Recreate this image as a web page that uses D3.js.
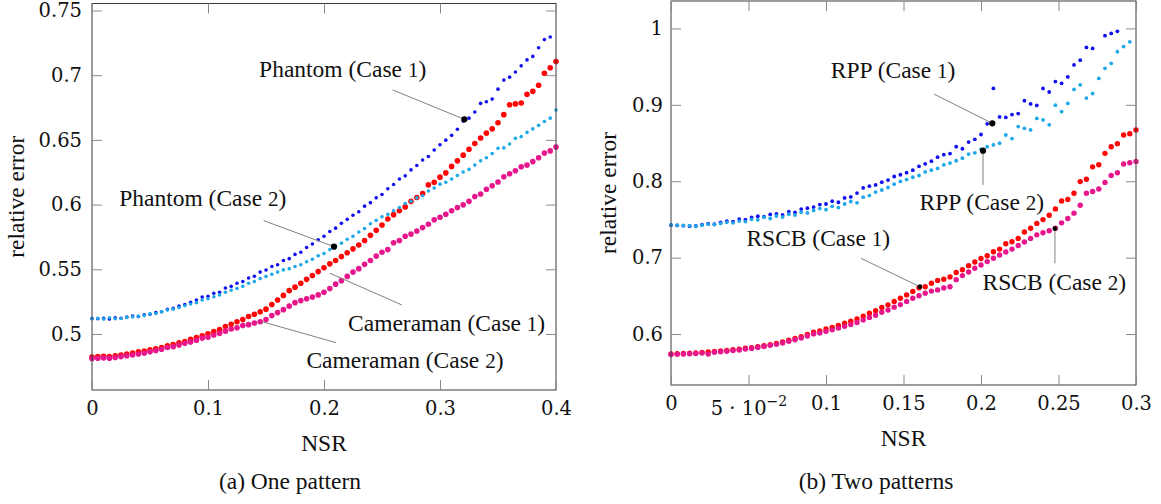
<!DOCTYPE html>
<html>
<head>
<meta charset="utf-8">
<script src="https://cdn.jsdelivr.net/npm/d3@7"></script>
<style>
  body { margin: 0; background: #fff; }
  svg { display: block; }
  text.lbl, text.lbl tspan { font-family: 'Liberation Serif', 'Times New Roman', serif; }
  text.num, text.num tspan, tspan.num { font-family: 'DejaVu Serif', serif; }
</style>
</head>
<body>
<svg id="chart" width="1161" height="504"></svg>
<script>
// ---- data: (a) one pattern ----
const nsrA = [0, 0.005, 0.01, 0.015, 0.02, 0.025, 0.03, 0.035, 0.04, 0.045,
  0.05, 0.055, 0.06, 0.065, 0.07, 0.075, 0.08, 0.085, 0.09, 0.095,
  0.1, 0.105, 0.11, 0.115, 0.12, 0.125, 0.13, 0.135, 0.14, 0.145,
  0.15, 0.155, 0.16, 0.165, 0.17, 0.175, 0.18, 0.185, 0.19, 0.195,
  0.2, 0.205, 0.21, 0.215, 0.22, 0.225, 0.23, 0.235, 0.24, 0.245,
  0.25, 0.255, 0.26, 0.265, 0.27, 0.275, 0.28, 0.285, 0.29, 0.295,
  0.3, 0.305, 0.31, 0.315, 0.32, 0.325, 0.33, 0.335, 0.34, 0.345,
  0.35, 0.355, 0.36, 0.365, 0.37, 0.375, 0.38, 0.385, 0.39, 0.395, 0.4];

const phantom1 = [0.512, 0.5118, 0.5122, 0.5115, 0.5125, 0.5121, 0.513, 0.5138, 0.5135, 0.5148,
  0.5152, 0.5165, 0.5172, 0.519, 0.5198, 0.5215, 0.5228, 0.5245, 0.5262, 0.5285,
  0.5292, 0.5315, 0.5322, 0.5355, 0.5368, 0.5392, 0.5405, 0.5432, 0.5446, 0.5478,
  0.5494, 0.5522, 0.5535, 0.5568, 0.5582, 0.5615, 0.5632, 0.5668, 0.5695, 0.5728,
  0.5755, 0.5792, 0.5818, 0.5855, 0.5886, 0.5918, 0.5945, 0.5988, 0.6015, 0.6052,
  0.6078, 0.6122, 0.6155, 0.6198, 0.6222, 0.6268, 0.6302, 0.6345, 0.6372, 0.6422,
  0.6462, 0.6498, 0.6535, 0.6582, 0.6645, 0.6668, 0.6715, 0.6782, 0.6795, 0.6815,
  0.6892, 0.6962, 0.6985, 0.7025, 0.7072, 0.7118, 0.7145, 0.7212, 0.7275, 0.7295, null];

const phantom2 = [0.5118, 0.5122, 0.5115, 0.5125, 0.5118, 0.512, 0.5128, 0.5132, 0.5138, 0.5142,
  0.5155, 0.5158, 0.5172, 0.5185, 0.5192, 0.5205, 0.5218, 0.5232, 0.5242, 0.5262,
  0.5272, 0.5288, 0.5302, 0.5322, 0.5338, 0.5352, 0.5368, 0.5392, 0.5405, 0.5428,
  0.5445, 0.5462, 0.5478, 0.5495, 0.5505, 0.5522, 0.5535, 0.5558, 0.5578, 0.5605,
  0.5622, 0.5652, 0.5678, 0.5702, 0.5732, 0.5755, 0.5788, 0.5815, 0.5852, 0.5878,
  0.5905, 0.5925, 0.5952, 0.5978, 0.6008, 0.6025, 0.6052, 0.6068, 0.6105, 0.6128,
  0.6158, 0.6172, 0.6198, 0.6225, 0.6252, 0.6272, 0.6305, 0.6338, 0.6362, 0.6395,
  0.6435, 0.6438, 0.6468, 0.6512, 0.6525, 0.6558, 0.6585, 0.6612, 0.6642, 0.6668, 0.673];

const camera1 = [0.4822, 0.4825, 0.4828, 0.4826, 0.4832, 0.4838, 0.4845, 0.4852, 0.4862, 0.4868,
  0.4878, 0.4885, 0.4895, 0.4908, 0.4918, 0.4932, 0.4942, 0.4958, 0.4972, 0.4985,
  0.5002, 0.5018, 0.5035, 0.5058, 0.5075, 0.5095, 0.5112, 0.5135, 0.5152, 0.5172,
  0.5192, 0.5228, 0.5262, 0.5298, 0.5335, 0.5362, 0.5392, 0.5422, 0.5452, 0.5482,
  0.5512, 0.5542, 0.5568, 0.5598, 0.5628, 0.5658, 0.5688, 0.5722, 0.5762, 0.5802,
  0.5842, 0.5888, 0.5922, 0.5952, 0.5982, 0.6025, 0.6055, 0.6085, 0.6152, 0.6172,
  0.6212, 0.6245, 0.6295, 0.6338, 0.6382, 0.6428, 0.6472, 0.6515, 0.6552, 0.6585,
  0.6632, 0.6695, 0.6772, 0.6778, 0.6785, 0.6852, 0.6875, 0.6922, 0.7015, 0.7058, 0.7105];

const camera2 = [0.481, 0.4812, 0.4815, 0.4813, 0.4818, 0.4825, 0.4832, 0.4838, 0.4845, 0.4852,
  0.4862, 0.4872, 0.4882, 0.4895, 0.4902, 0.4915, 0.4928, 0.4938, 0.4952, 0.4968,
  0.4975, 0.4992, 0.5005, 0.5022, 0.5038, 0.5048, 0.5065, 0.5072, 0.5085, 0.5095,
  0.5112, 0.5142, 0.5165, 0.5188, 0.5215, 0.5242, 0.5258, 0.5272, 0.5285, 0.5302,
  0.5322, 0.5352, 0.5385, 0.5412, 0.5445, 0.5478, 0.5505, 0.5538, 0.5568, 0.5602,
  0.5632, 0.5652, 0.5705, 0.5722, 0.5755, 0.5772, 0.5795, 0.5822, 0.5848, 0.5882,
  0.5902, 0.5925, 0.5952, 0.5978, 0.5998, 0.6025, 0.6062, 0.6082, 0.6118, 0.6145,
  0.6175, 0.6215, 0.6238, 0.6262, 0.6292, 0.6305, 0.6332, 0.6362, 0.6398, 0.6415, 0.6445];

// ---- data: (b) two patterns ----
const nsrB = [0, 0.004, 0.008, 0.012, 0.016, 0.02, 0.024, 0.028, 0.032, 0.036,
  0.04, 0.044, 0.048, 0.052, 0.056, 0.06, 0.064, 0.068, 0.072, 0.076,
  0.08, 0.084, 0.088, 0.092, 0.096, 0.1, 0.104, 0.108, 0.112, 0.116,
  0.12, 0.124, 0.128, 0.132, 0.136, 0.14, 0.144, 0.148, 0.152, 0.156,
  0.16, 0.164, 0.168, 0.172, 0.176, 0.18, 0.184, 0.188, 0.192, 0.196,
  0.2, 0.204, 0.208, 0.212, 0.216, 0.22, 0.224, 0.228, 0.232, 0.236,
  0.24, 0.244, 0.248, 0.252, 0.256, 0.26, 0.264, 0.268, 0.272, 0.276,
  0.28, 0.284, 0.288, 0.292, 0.296, 0.3];

const rpp1 = [0.7425, 0.7422, 0.7418, 0.7412, 0.7415, 0.7432, 0.7445, 0.7438, 0.7462, 0.7478,
  0.7472, 0.7505, 0.7498, 0.7528, 0.7542, 0.7535, 0.7565, 0.7572, 0.7558, 0.7602,
  0.7592, 0.7635, 0.7648, 0.7662, 0.7695, 0.7702, 0.7738, 0.7725, 0.7782, 0.7795,
  0.7845, 0.7912, 0.7935, 0.7952, 0.7988, 0.8015, 0.8062, 0.8085, 0.8112, 0.8145,
  0.8195, 0.8228, 0.8262, 0.8315, 0.8348, 0.8362, 0.8452, 0.8425, 0.8512, 0.8548,
  0.8612, 0.8752, 0.9215, 0.8842, 0.8835, 0.8872, 0.8885, 0.9055, 0.9012, 0.8992,
  0.9215, 0.9168, 0.9305, 0.9282, 0.9365, 0.9522, 0.9585, 0.9752, 0.9738, null,
  0.9905, 0.9935, 0.9962, null, null, null];

const rpp2 = [0.7428, 0.7425, 0.7421, 0.7418, 0.7412, 0.7425, 0.7438, 0.7432, 0.7448, 0.7462,
  0.7455, 0.7478, 0.7472, 0.7502, 0.7495, 0.7528, 0.7512, 0.7545, 0.7532, 0.7568,
  0.7558, 0.7595, 0.7585, 0.7618, 0.7642, 0.7628, 0.7672, 0.7655, 0.7702, 0.7735,
  0.7718, 0.7792, 0.7812, 0.7858, 0.7885, 0.7918, 0.7962, 0.7998, 0.8022, 0.8052,
  0.8075, 0.8122, 0.8145, 0.8168, 0.8215, 0.8238, 0.8268, 0.8302, 0.8355, 0.8372,
  0.8418, 0.8452, 0.8475, 0.8498, 0.8605, 0.8558, 0.8715, 0.8692, 0.8672, 0.8822,
  0.8802, 0.8738, 0.8995, 0.8912, 0.9018, 0.9202, 0.9262, 0.9088, 0.9148, 0.9345,
  0.9478, 0.9542, 0.9695, 0.9762, 0.9825, null];

const rscb1 = [0.5738, 0.5742, 0.5745, 0.5748, 0.5752, 0.5758, 0.5765, 0.5772, 0.5778, 0.5785,
  0.5795, 0.5802, 0.5815, 0.5822, 0.5835, 0.5848, 0.5862, 0.5878, 0.5895, 0.5918,
  0.5942, 0.5965, 0.5995, 0.6025, 0.6042, 0.6065, 0.6085, 0.6112, 0.6142, 0.6168,
  0.6198, 0.6235, 0.6272, 0.6305, 0.6348, 0.6382, 0.6425, 0.6468, 0.6512, 0.6558,
  0.6605, 0.6618, 0.6665, 0.6702, 0.6718, 0.6748, 0.6805, 0.6842, 0.6895, 0.6942,
  0.6988, 0.7025, 0.7078, 0.7112, 0.7182, 0.7208, 0.7252, 0.7335, 0.7385, 0.7448,
  0.7498, 0.7555, 0.7638, 0.7742, 0.7762, 0.7842, 0.7995, 0.8025, 0.8188, 0.8215,
  0.8365, 0.8452, 0.8492, 0.8605, 0.8622, 0.8672];

const rscb2 = [0.5732, 0.5735, 0.5738, 0.5742, 0.5745, 0.5752, 0.5738, 0.5762, 0.5768, 0.5775,
  0.5785, 0.5792, 0.5805, 0.5812, 0.5825, 0.5838, 0.5852, 0.5865, 0.5882, 0.5905,
  0.5925, 0.5948, 0.5975, 0.6002, 0.6015, 0.6035, 0.6055, 0.6078, 0.6102, 0.6125,
  0.6152, 0.6185, 0.6218, 0.6245, 0.6285, 0.6315, 0.6352, 0.6385, 0.6425, 0.6468,
  0.6502, 0.6535, 0.6562, 0.6578, 0.6602, 0.6618, 0.6712, 0.6765, 0.6812, 0.6862,
  0.6905, 0.6948, 0.6992, 0.7035, 0.7075, 0.7112, 0.7158, 0.7205, 0.7252, 0.7298,
  0.7325, 0.7352, 0.7385, 0.7455, 0.7512, 0.7582, 0.7685, 0.7842, 0.7865, 0.7898,
  0.7985, 0.8075, 0.8112, 0.8225, 0.8242, 0.8258];

// ticks
const xTicksA = [0, 0.1, 0.2, 0.3, 0.4];
const xLabelsA = ["0", "0.1", "0.2", "0.3", "0.4"];
const yTicksA = [0.5, 0.55, 0.6, 0.65, 0.7, 0.75];
const yLabelsA = ["0.5", "0.55", "0.6", "0.65", "0.7", "0.75"];
const xTicksB = [0, 0.05, 0.1, 0.15, 0.2, 0.25, 0.3];
const xLabelsB = ["0", "5·10^-2", "0.1", "0.15", "0.2", "0.25", "0.3"];
const yTicksB = [0.6, 0.7, 0.8, 0.9, 1];
const yLabelsB = ["0.6", "0.7", "0.8", "0.9", "1"];

// pins: point on curve, end of the pin line, label centre (data coords)
const pinsA = [
  {text: "Phantom (Case 1)", p: [0.321, 0.6659], e: [0.2592, 0.6886], t: [0.2161, 0.7034], dot: true},
  {text: "Phantom (Case 2)", p: [0.2086, 0.5675], e: [0.148, 0.5876], t: [0.0955, 0.6036], dot: true},
  {text: "Cameraman (Case 1)", p: [0.2052, 0.5469], e: [0.2672, 0.5224], t: [0.3057, 0.507], dot: false},
  {text: "Cameraman (Case 2)", p: [0.1466, 0.5095], e: [0.2103, 0.4933], t: [0.2698, 0.4786], dot: false}
];
const pinsB = [
  {text: "RPP (Case 1)", p: [0.2073, 0.8758], e: [0.1697, 0.9141], t: [0.1433, 0.9433], dot: true},
  {text: "RPP (Case 2)", p: [0.2013, 0.840], e: [0.2013, 0.795], t: [0.2005, 0.7702], dot: true},
  {text: "RSCB (Case 1)", p: [0.1606, 0.6619], e: [0.1226, 0.6991], t: [0.095, 0.7241], dot: "small"},
  {text: "RSCB (Case 2)", p: [0.2477, 0.738], e: [0.2477, 0.6925], t: [0.2473, 0.6654], dot: "small"}
];

const svg = d3.select("#chart");
const fs = 23.5;        // text size (Liberation Serif)
const fsNum = 19.5;     // tick numbers (DejaVu Serif)
const fsDigit = 21;     // digits inside the pin labels

const col = {
  blue: "#0f0ff0",
  cyan: "#1ea8e8",
  red: "#ff0505",
  magenta: "#e8168c"
};

// label text with the digits set in the numeric font
function mixed(sel, str) {
  str.split(/(\d+)/).filter(s => s.length).forEach(part => {
    const t = sel.append("tspan").text(part);
    if (/^\d+$/.test(part)) t.attr("class", "num").attr("font-size", fsDigit);
  });
}

function panel(o) {
  const x = d3.scaleLinear().domain(o.xDomain).range([o.left, o.right]);
  const y = d3.scaleLinear().domain(o.yDomain).range([o.bottom, o.top]);
  const g = svg.append("g");

  // scatter series (drawing order as in the original)
  o.series.forEach(s => {
    const pts = o.nsr.map((n, i) => ({x: n, v: s.values[i]})).filter(d => d.v != null);
    g.append("g")
     .selectAll("circle")
     .data(pts)
     .join("circle")
     .attr("cx", d => x(d.x))
     .attr("cy", d => y(d.v))
     .attr("r", s.r)
     .attr("fill", s.color);
  });

  // pins
  const pg = g.append("g");
  o.pins.forEach(p => {
    pg.append("line")
      .attr("x1", x(p.p[0])).attr("y1", y(p.p[1]))
      .attr("x2", x(p.e[0])).attr("y2", y(p.e[1]))
      .attr("stroke", "#808080").attr("stroke-width", 1);
    if (p.dot) {
      pg.append("circle")
        .attr("cx", x(p.p[0])).attr("cy", y(p.p[1]))
        .attr("r", p.dot === "small" ? 2.4 : 3.1)
        .attr("fill", "#000");
    }
    const t = pg.append("text")
      .attr("class", "lbl")
      .attr("x", x(p.t[0])).attr("y", y(p.t[1]))
      .attr("dy", "0.27em")
      .attr("text-anchor", "middle")
      .attr("font-size", fs)
      .attr("fill", "#111");
    mixed(t, p.text);
  });

  // box
  g.append("rect")
   .attr("x", o.left).attr("y", o.top)
   .attr("width", o.right - o.left).attr("height", o.bottom - o.top)
   .attr("fill", "none").attr("stroke", "#3a3a3a").attr("stroke-width", 1);

  const tick = 10;
  const styleAxis = sel => {
    sel.attr("font-size", fsNum).attr("font-family", null);
    sel.select(".domain").remove();
    sel.selectAll("line").attr("stroke", "#8a8a8a");
    sel.selectAll("text").attr("class", "num").attr("fill", "#111");
  };

  g.append("g").attr("transform", `translate(0,${o.bottom})`)
   .call(d3.axisBottom(x).tickValues(o.xTicks).tickSizeInner(-tick).tickSizeOuter(0)
         .tickPadding(11).tickFormat((d, i) => o.xLabels[i]))
   .call(styleAxis);
  g.append("g").attr("transform", `translate(0,${o.top})`)
   .call(d3.axisTop(x).tickValues(o.xTicks).tickSizeInner(-tick).tickSizeOuter(0).tickFormat(""))
   .call(styleAxis);
  g.append("g").attr("transform", `translate(${o.left},0)`)
   .call(d3.axisLeft(y).tickValues(o.yTicks).tickSizeInner(-tick).tickSizeOuter(0)
         .tickPadding(o.yPad).tickFormat((d, i) => o.yLabels[i]))
   .call(styleAxis);
  g.append("g").attr("transform", `translate(${o.right},0)`)
   .call(d3.axisRight(y).tickValues(o.yTicks).tickSizeInner(-tick).tickSizeOuter(0).tickFormat(""))
   .call(styleAxis);

  // exponent labels like 5·10^-2
  g.selectAll("text").filter(function() { return this.textContent.includes("^"); })
   .each(function() {
     const t = d3.select(this);
     const [base, ex] = t.text().split("^");
     t.text(null).attr("dy", null).attr("y", 30);
     t.append("tspan").text(base.replace("·", " · "));
     t.append("tspan").attr("dy", -9).attr("font-size", fsNum * 0.72).text(ex.replace("-", "\u2212"));
   });

  // axis titles and caption
  g.append("text").attr("class", "lbl")
   .attr("x", (o.left + o.right) / 2).attr("y", o.bottom + 61)
   .attr("text-anchor", "middle").attr("font-size", fs).attr("fill", "#111")
   .text("NSR");
  g.append("text").attr("class", "lbl")
   .attr("transform", `translate(${o.yTitleX},${(o.top + o.bottom) / 2}) rotate(-90)`)
   .attr("text-anchor", "middle").attr("font-size", fs).attr("fill", "#111")
   .text("relative error");
  g.append("text").attr("class", "lbl")
   .attr("x", o.capX).attr("y", 489)
   .attr("text-anchor", "middle").attr("font-size", fs).attr("fill", "#111")
   .text(o.caption);
}

panel({
  left: 92, right: 556, top: 3.5, bottom: 390,
  xDomain: [0, 0.4], yDomain: [0.4567, 0.7554],
  nsr: nsrA,
  series: [
    {values: camera1, color: col.red, r: 2.8},
    {values: camera2, color: col.magenta, r: 2.8},
    {values: phantom1, color: col.blue, r: 1.8},
    {values: phantom2, color: col.cyan, r: 1.8}
  ],
  pins: pinsA,
  xTicks: xTicksA, xLabels: xLabelsA, yTicks: yTicksA, yLabels: yLabelsA,
  yPad: 10, yTitleX: 24, capX: 290, caption: "(a)  One pattern"
});

panel({
  left: 671, right: 1136, top: 1, bottom: 385,
  xDomain: [0, 0.3], yDomain: [0.5333, 1.0359],
  nsr: nsrB,
  series: [
    {values: rscb1, color: col.red, r: 2.7},
    {values: rscb2, color: col.magenta, r: 2.7},
    {values: rpp1, color: col.blue, r: 1.9},
    {values: rpp2, color: col.cyan, r: 1.9}
  ],
  pins: pinsB,
  xTicks: xTicksB, xLabels: xLabelsB, yTicks: yTicksB, yLabels: yLabelsB,
  yPad: 8, yTitleX: 616, capX: 876, caption: "(b)  Two patterns"
});
</script>
</body>
</html>
